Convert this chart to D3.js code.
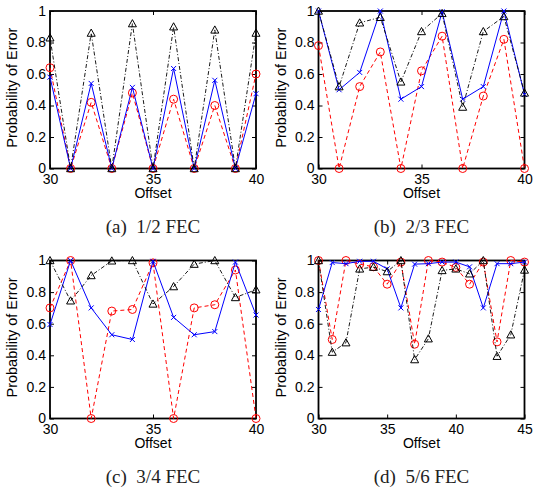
<!DOCTYPE html>
<html><head><meta charset="utf-8">
<script src="https://cdnjs.cloudflare.com/ajax/libs/d3/7.8.5/d3.min.js"></script>
<style>
html,body{margin:0;padding:0;background:#fff;}
svg{display:block;}
</style></head>
<body>
<script>
// ---- data ----
const captions = ["(a)  1/2 FEC", "(b)  2/3 FEC", "(c)  3/4 FEC", "(d)  5/6 FEC"];
const offsetsA = [30,31,32,33,34,35,36,37,38,39,40];
const offsetsD = [30,31,32,33,34,35,36,37,38,39,40,41,42,43,44,45];
const xTicksABC = [30,35,40];
const xTicksD = [30,35,40,45];
const yTicks = [0,0.2,0.4,0.6,0.8,1];
const yTickLabels = ["0","0.2","0.4","0.6","0.8","1"];

const redA   = [0.64,0,0.42,0,0.48,0,0.44,0,0.40,0,0.60];
const blueA  = [0.58,0,0.54,0,0.515,0,0.635,0,0.56,0,0.475];
const blackA = [0.83,0,0.86,0,0.92,0,0.90,0,0.88,0,0.86];

const redB   = [0.78,0,0.52,0.74,0,0.62,0.84,0,0.46,0.82,0];
const blueB  = [1.0,0.50,0.61,1.0,0.44,0.52,0.995,0.44,0.52,1.0,0.47];
const blackB = [1.0,0.52,0.925,0.96,0.55,0.87,0.985,0.39,0.87,0.965,0.48];

const redC   = [0.70,1.0,0,0.68,0.69,0.985,0,0.70,0.72,0.94,0];
const blueC  = [0.595,1.0,0.70,0.53,0.50,0.995,0.64,0.53,0.55,0.99,0.655];
const blackC = [1.0,0.745,0.905,0.998,1.0,0.725,0.835,0.977,1.0,0.766,0.815];

const redD   = [1.0,0.50,1.0,0.977,0.96,0.85,0.99,0.47,1.0,0.99,0.956,0.85,0.99,0.485,1.0,0.99];
const blueD  = [0.69,0.987,0.98,0.995,0.995,0.947,0.70,0.977,0.98,0.99,0.99,0.96,0.70,0.98,0.98,0.99];
const blackD = [1.0,0.42,0.48,0.947,0.958,0.93,1.0,0.373,0.505,0.937,0.947,0.916,1.0,0.394,0.53,0.94];

// ---- layout ----
const W = 534, H = 489;
const panels = [
  {x: offsetsA, red: redA, blue: blueA, black: blackA, xt: xTicksABC, dom:[30,40], l:50,  t:11,  r:256, b:168.5, cap:captions[0]},
  {x: offsetsA, red: redB, blue: blueB, black: blackB, xt: xTicksABC, dom:[30,40], l:318.5, t:11, r:524.5, b:168.5, cap:captions[1]},
  {x: offsetsA, red: redC, blue: blueC, black: blackC, xt: xTicksABC, dom:[30,40], l:50,  t:260.5, r:256, b:418.5, cap:captions[2]},
  {x: offsetsD, red: redD, blue: blueD, black: blackD, xt: xTicksD, dom:[30,45], l:318.5, t:260.5, r:524.5, b:418.5, cap:captions[3]}
];

const svg = d3.select("body").append("svg").attr("width", W).attr("height", H);
const sans = "'Liberation Sans', Arial, Helvetica, sans-serif";
const serif = "'Liberation Serif', 'Times New Roman', serif";

panels.forEach(p => {
  const xs = d3.scaleLinear().domain(p.dom).range([p.l, p.r]);
  const ys = d3.scaleLinear().domain([0,1]).range([p.b, p.t]);
  const g = svg.append("g");

  // axes (inward ticks, mirrored)
  const axB = d3.axisBottom(xs).tickValues(p.xt).tickSize(-4).tickPadding(7).tickFormat(d3.format("d"));
  const axT = d3.axisTop(xs).tickValues(p.xt).tickSize(-4).tickFormat("");
  const axL = d3.axisLeft(ys).tickValues(yTicks).tickSize(-4).tickPadding(4).tickFormat((d,i)=>yTickLabels[i]);
  const axR = d3.axisRight(ys).tickValues(yTicks).tickSize(-4).tickFormat("");
  const gb = g.append("g").attr("transform",`translate(0,${p.b})`).call(axB);
  const gt = g.append("g").attr("transform",`translate(0,${p.t})`).call(axT);
  const gl = g.append("g").attr("transform",`translate(${p.l},0)`).call(axL);
  const gr = g.append("g").attr("transform",`translate(${p.r},0)`).call(axR);
  [gb,gt,gl,gr].forEach(a => {
    a.select(".domain").remove();
    a.selectAll(".tick line").attr("stroke","#000").attr("stroke-width",1);
    a.selectAll(".tick text").attr("font-family", sans).attr("font-size", 14).attr("fill","#000");
  });
  gb.selectAll(".tick text").attr("dy","0.58em");

  // frame
  g.append("rect").attr("x",p.l).attr("y",p.t).attr("width",p.r-p.l).attr("height",p.b-p.t)
    .attr("fill","none").attr("stroke","#000").attr("stroke-width",1.8);

  // labels
  g.append("text").attr("x",(p.l+p.r)/2).attr("y",p.b+29.5).attr("text-anchor","middle")
    .attr("font-family",sans).attr("font-size",14).text("Offset");
  g.append("text").attr("transform",`translate(${p.l-33},${(p.t+p.b)/2 - 2}) rotate(-90)`)
    .attr("text-anchor","middle").attr("font-family",sans).attr("font-size",14.5).text("Probability of Error");
  g.append("text").attr("x",(p.l+p.r)/2 - 0).attr("y",p.b+64).attr("text-anchor","middle")
    .attr("font-family",serif).attr("font-size",19).attr("fill","#222").style("white-space","pre").text(p.cap);

  const line = d3.line().x((d,i)=>xs(p.x[i])).y(d=>ys(d));

  // red dashed with circles
  g.append("path").datum(p.red).attr("d",line).attr("fill","none").attr("stroke","#ff0000")
    .attr("stroke-width",1).attr("stroke-dasharray","4,3");
  g.selectAll(".rc").data(p.red).join("circle").attr("cx",(d,i)=>xs(p.x[i])).attr("cy",d=>ys(d))
    .attr("r",4).attr("fill","none").attr("stroke","#ff0000").attr("stroke-width",1);

  // blue solid with x
  g.append("path").datum(p.blue).attr("d",line).attr("fill","none").attr("stroke","#0000ff").attr("stroke-width",1);
  const s = 2.5;
  g.selectAll(".bx").data(p.blue).join("path")
    .attr("d",(d,i)=>{const cx=xs(p.x[i]), cy=ys(d); return `M${cx-s},${cy-s}L${cx+s},${cy+s}M${cx-s},${cy+s}L${cx+s},${cy-s}`;})
    .attr("fill","none").attr("stroke","#0000ff").attr("stroke-width",1);

  // black dash-dot with triangles
  g.append("path").datum(p.black).attr("d",line).attr("fill","none").attr("stroke","#000")
    .attr("stroke-width",0.9).attr("stroke-dasharray","4,2,1,2");
  const tr = 4;
  g.selectAll(".kt").data(p.black).join("path")
    .attr("d",(d,i)=>{const cx=xs(p.x[i]), cy=ys(d); return `M${cx},${cy-tr}L${cx+tr},${cy+tr*0.8}L${cx-tr},${cy+tr*0.8}Z`;})
    .attr("fill","none").attr("stroke","#000").attr("stroke-width",1);
});
</script>
</body></html>
